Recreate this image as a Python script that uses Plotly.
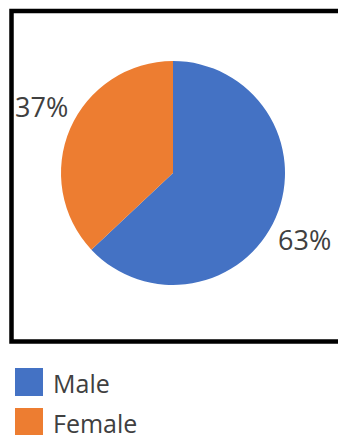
import math
import plotly.graph_objects as go

labels = ["Male", "Female"]
values = [63, 37]
colors = ["#4472C4", "#ED7D31"]

W, H = 338, 435
FONT = "Open Sans"
TXT = "#404040"

# pie geometry (pixels)
CX, CY, R = 173, 173, 112
LABEL_R = 1.32        # label distance, in radii
LABEL_ROT = 3.5       # small angular offset of labels, degrees

def px(x):
    return x / W

def py(y):
    return 1 - y / H

fig = go.Figure(go.Pie(
    labels=labels,
    values=values,
    marker=dict(colors=colors, line=dict(width=0)),
    sort=False,
    direction="clockwise",
    rotation=0,
    textinfo="none",
    domain=dict(x=[px(CX - R), px(CX + R)], y=[py(CY + R), py(CY - R)]),
    showlegend=False,
    hoverinfo="label+percent",
))

shapes = [dict(type="rect", xref="paper", yref="paper",
               x0=px(11.5), x1=px(345), y0=py(341.5), y1=py(11),
               line=dict(color="black", width=4.5), fillcolor="rgba(0,0,0,0)")]
annotations = []

# percent labels placed outside each slice, along its mid-angle
total = sum(values)
cum = 0
for v in values:
    mid = (cum + v / 2) / total * 2 * math.pi + math.radians(LABEL_ROT)
    cum += v
    rr = R * LABEL_R
    x = CX + rr * math.sin(mid)
    y = CY - rr * math.cos(mid)
    annotations.append(dict(xref="paper", yref="paper", x=px(x), y=py(y),
                            xanchor="center", yanchor="middle", showarrow=False,
                            text=f"{round(v / total * 100)}%",
                            font=dict(size=27, color=TXT, family=FONT)))

for i, (lab, col) in enumerate(zip(labels, colors)):
    yc = 382 + i * 40
    shapes.append(dict(type="rect", xref="paper", yref="paper",
                       x0=px(15), x1=px(43), y0=py(yc + 14), y1=py(yc - 14),
                       line=dict(width=0), fillcolor=col))
    annotations.append(dict(xref="paper", yref="paper", x=px(51), y=py(yc + 1),
                            xanchor="left", yanchor="middle", showarrow=False,
                            height=24, valign="middle",
                            text=lab, font=dict(size=25, color=TXT, family=FONT)))

fig.update_layout(
    width=W, height=H,
    margin=dict(l=0, r=0, t=0, b=0),
    paper_bgcolor="white",
    plot_bgcolor="white",
    shapes=shapes,
    annotations=annotations,
)

fig.write_html("out.html", config={"displayModeBar": False},
               post_script="document.body.style.margin='0';document.body.style.overflow='hidden';")
